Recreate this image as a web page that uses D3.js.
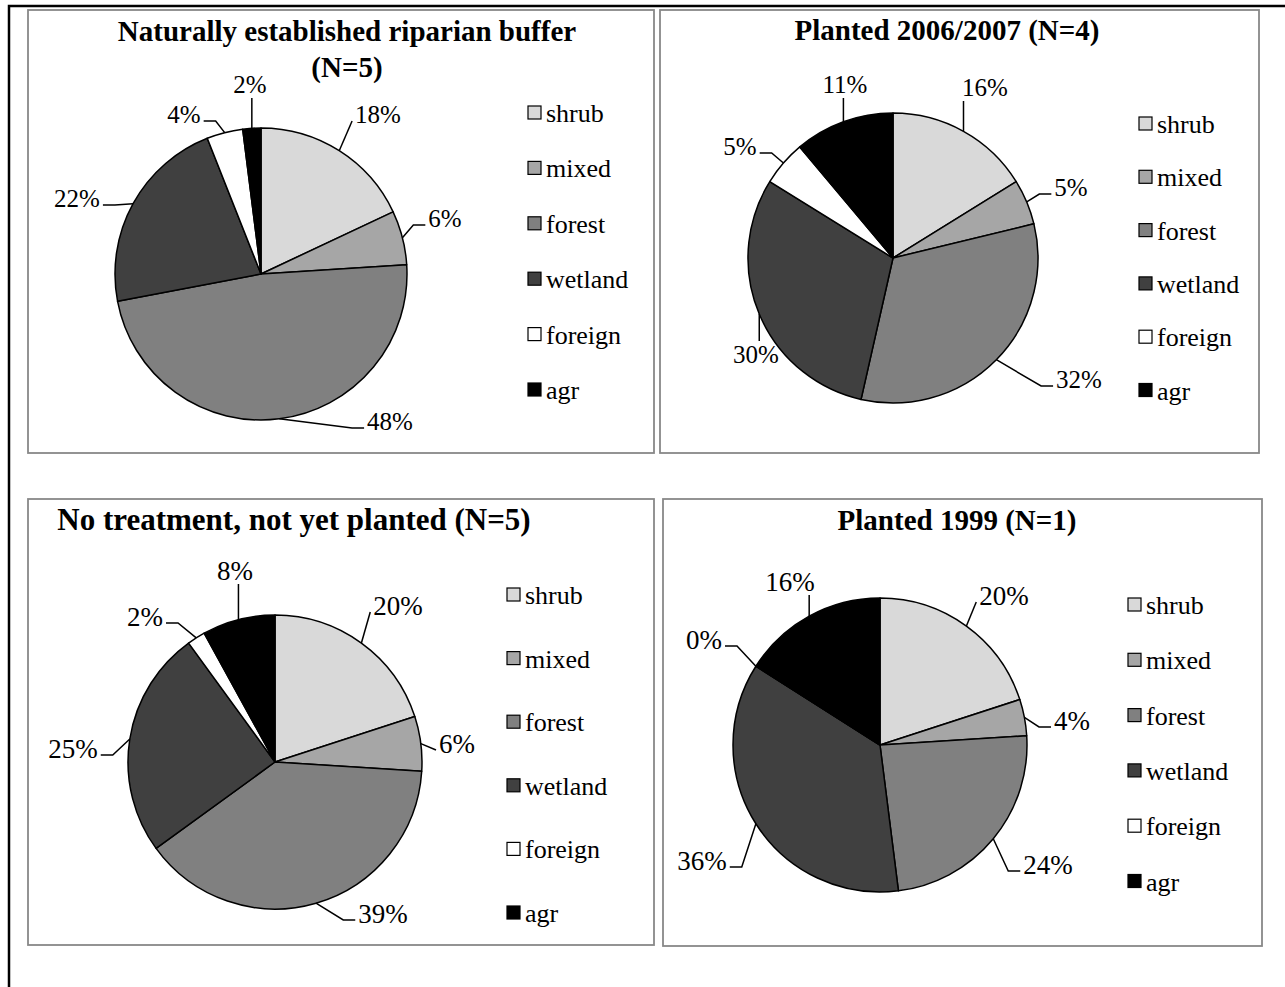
<!DOCTYPE html>
<html>
<head>
<meta charset="utf-8">
<script src="https://cdn.jsdelivr.net/npm/d3@7"></script>
<style>
    body { margin: 0; background: #fff; }
    svg { display: block; font-family: "Liberation Serif", "Times New Roman", serif; }
</style>
</head>
<body>
<div id="chart"></div>
<script>
// categories, in pie order (clockwise from 12 o'clock)
const categories = ['shrub', 'mixed', 'forest', 'wetland', 'foreign', 'agr'];

// share of each category, percent
const naturalValues = [18, 6, 48, 22, 4, 2];
const planted0607Values = [16, 5, 32, 30, 5, 11];
const noTreatmentValues = [20, 6, 39, 25, 2, 8];
const planted1999Values = [20, 4, 24, 36, 0, 16];

const titles = [
    ['Naturally established riparian buffer', '(N=5)'],
    ['Planted 2006/2007 (N=4)'],
    ['No treatment, not yet planted (N=5)'],
    ['Planted 1999 (N=1)']
];

const colour = d3.scaleOrdinal()
    .domain(categories)
    .range(['#d9d9d9', '#a6a6a6', '#808080', '#404040', '#ffffff', '#000000']);

// layout of the four boxes (positions and sizes only)
const panels = [
    { values: naturalValues, title: titles[0], x0: 28, y0: 10, x1: 654, y1: 453,
      cx: 261, cy: 274, r: 146, titleX: 347, titleY: 41, titleSize: 29, labelSize: 25,
      legendX: 528, legendY: 113, legendStep: 55.4,
      labelAt: [[378, 115], [445, 219], [390, 422], [77, 199], [184, 115], [250, 85]] },
    { values: planted0607Values, title: titles[1], x0: 660, y0: 10, x1: 1259, y1: 453,
      cx: 893, cy: 258, r: 145, titleX: 947, titleY: 40, titleSize: 29, labelSize: 25,
      legendX: 1139, legendY: 124, legendStep: 53.3,
      labelAt: [[985, 88], [1071, 188], [1079, 380], [756, 355], [740, 147], [845, 85]] },
    { values: noTreatmentValues, title: titles[2], x0: 28, y0: 499, x1: 654, y1: 945,
      cx: 275, cy: 762, r: 147, titleX: 294, titleY: 530, titleSize: 31, labelSize: 27,
      legendX: 507, legendY: 595, legendStep: 63.6,
      labelAt: [[398, 606], [457, 744], [383, 914], [73, 749], [145, 617], [235, 571]] },
    { values: planted1999Values, title: titles[3], x0: 663, y0: 499, x1: 1262, y1: 946,
      cx: 880, cy: 745, r: 147, titleX: 957, titleY: 530, titleSize: 29, labelSize: 27,
      legendX: 1128, legendY: 605, legendStep: 55.3,
      labelAt: [[1004, 596], [1072, 721], [1048, 865], [702, 861], [704, 640], [790, 582]] }
];

const width = 1285, height = 987;
const legendSize = 26;

const svg = d3.select('#chart')
    .append('svg')
    .attr('width', width)
    .attr('height', height);

// page frame
svg.append('path')
    .attr('d', `M9,${height} V6 H${width}`)
    .attr('fill', 'none')
    .attr('stroke', '#000')
    .attr('stroke-width', 2.5);

panels.forEach(drawPanel);

function drawPanel(p) {
    const g = svg.append('g');

    g.append('rect')
        .attr('x', p.x0)
        .attr('y', p.y0)
        .attr('width', p.x1 - p.x0)
        .attr('height', p.y1 - p.y0)
        .attr('fill', '#fff')
        .attr('stroke', '#888')
        .attr('stroke-width', 1.8);

    const title = g.append('text')
        .attr('text-anchor', 'middle')
        .attr('font-weight', 'bold')
        .attr('font-size', p.titleSize);
    p.title.forEach((line, i) => {
        title.append('tspan')
            .attr('x', p.titleX)
            .attr('y', p.titleY + i * 36)
            .text(line);
    });

    const data = categories.map((c, i) => ({ category: c, value: p.values[i] }));
    const arcs = d3.pie().sort(null).value(d => d.value)(data);
    const arc = d3.arc().innerRadius(0).outerRadius(p.r);
    const edge = d3.arc().innerRadius(p.r).outerRadius(p.r);

    const pie = g.append('g')
        .attr('transform', `translate(${p.cx},${p.cy})`);

    pie.selectAll('path.slice')
        .data(arcs)
        .join('path')
        .attr('class', 'slice')
        .attr('d', arc)
        .attr('fill', d => colour(d.data.category))
        .attr('stroke', '#000')
        .attr('stroke-width', 1.5)
        .attr('stroke-linejoin', 'round');

    // data labels with Excel-like leader lines
    const labels = pie.selectAll('g.label')
        .data(arcs)
        .join('g')
        .attr('class', 'label');

    labels.each(function(d, i) {
        const lg = d3.select(this);
        const lx = p.labelAt[i][0] - p.cx;
        const ly = p.labelAt[i][1] - p.cy;
        const text = lg.append('text')
            .attr('x', lx)
            .attr('y', ly + p.labelSize * 0.32)
            .attr('text-anchor', 'middle')
            .attr('font-size', p.labelSize)
            .text(Math.round(d.data.value) + '%');
        const w = text.node().getComputedTextLength();
        const x0 = lx - w / 2, x1 = lx + w / 2;
        const e = edge.centroid(d);
        let pts;
        if (e[0] >= x0 - 2 && e[0] <= x1 + 2) {
            const yEnd = e[1] > ly ? ly + 13 : ly - 14;
            pts = [e, [e[0], yEnd]];
        } else {
            const toRight = e[0] > x1;
            const sx = toRight ? x1 + 3 : x0 - 3;
            const sy = ly + 6;
            if (Math.abs(e[0] - sx) < 20) {
                pts = [e, [sx, sy]];
            } else {
                pts = [e, [toRight ? sx + 12 : sx - 12, sy], [sx, sy]];
            }
        }
        lg.append('path')
            .attr('d', d3.line()(pts))
            .attr('fill', 'none')
            .attr('stroke', '#000')
            .attr('stroke-width', 1.5);
    });

    // legend
    const legend = g.selectAll('g.legend')
        .data(categories)
        .join('g')
        .attr('class', 'legend')
        .attr('transform', (d, i) => `translate(${p.legendX},${p.legendY + i * p.legendStep})`);

    legend.append('rect')
        .attr('x', 0)
        .attr('y', -7)
        .attr('width', 13)
        .attr('height', 13)
        .attr('fill', d => colour(d))
        .attr('stroke', '#000')
        .attr('stroke-width', 1.2);

    legend.append('text')
        .attr('x', 18)
        .attr('y', 9)
        .attr('font-size', legendSize)
        .text(d => d);
}
</script>
</body>
</html>
